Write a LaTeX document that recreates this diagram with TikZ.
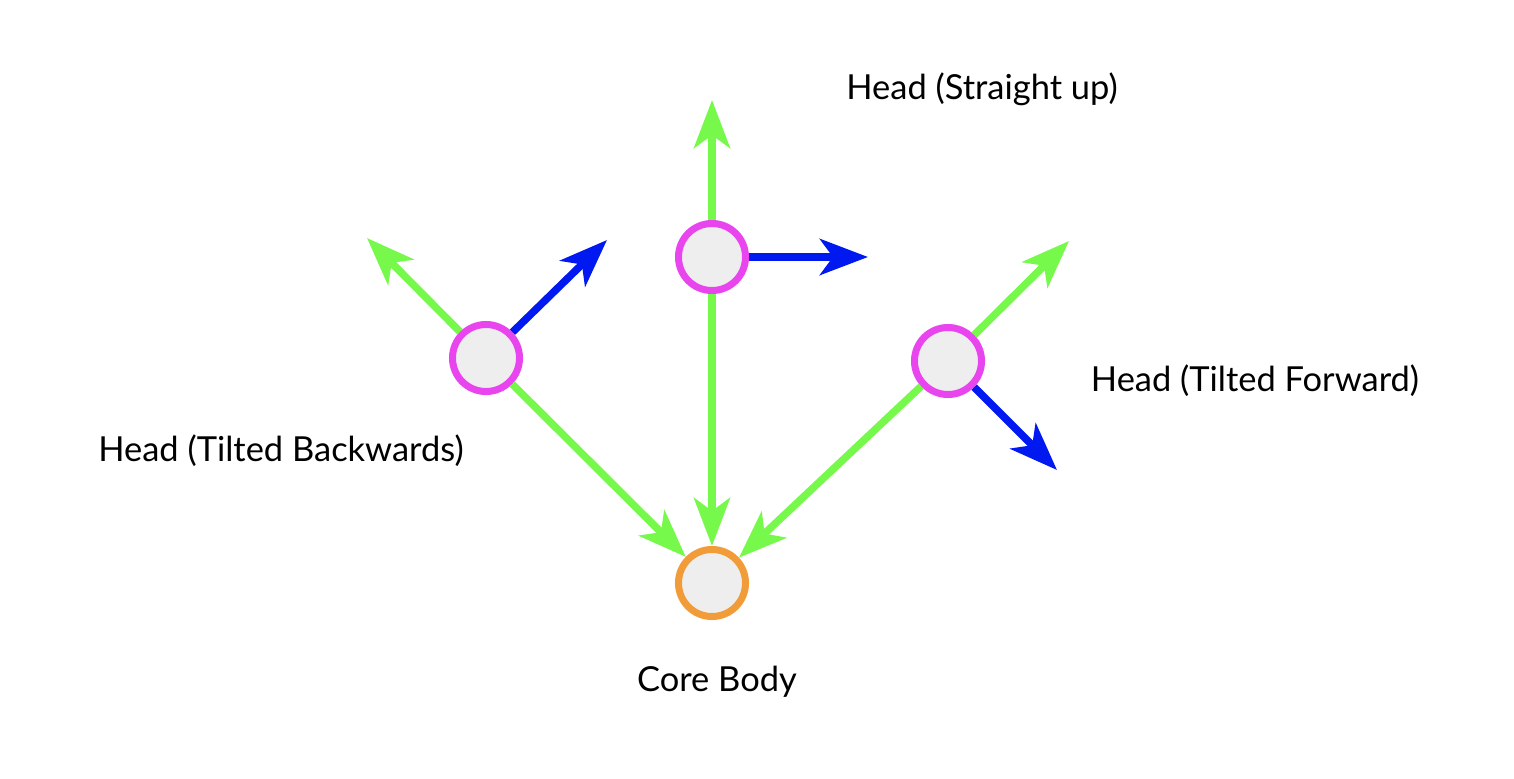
\documentclass[tikz,border=0pt]{standalone}
\usepackage{fontspec}
\setmainfont{Lato}
\usetikzlibrary{arrows.meta}
\definecolor{headpink}{HTML}{E845EE}
\definecolor{coreorange}{HTML}{F19C38}
\definecolor{jointgray}{HTML}{EEEEEE}
\definecolor{axisgreen}{HTML}{77F94B}
\definecolor{axisblue}{HTML}{0019F0}
\tikzset{
  joint/.style={circle, draw=headpink, fill=jointgray, line width=0.07cm, minimum size=0.67cm, inner sep=0pt},
  lbl/.style={font=\fontsize{9.8}{11}\selectfont, inner sep=0pt},
}
\begin{document}
\begin{tikzpicture}[x=0.01cm, y=-0.01cm, line width=0.075cm, >={Stealth[length=0.48cm, width=0.36cm, inset=0.13cm]}]
		\useasboundingbox (0,0) rectangle (1514,778);

		% heads and body
		\node[joint] (up) at (712,257) {};
		\node[joint] (back) at (486,358) {};
		\node[joint] (fwd) at (948,361) {};
		\node[joint, draw=coreorange] (core) at (712,583) {};

		% free ends of the axes
		\coordinate (up y) at (712,100);
		\coordinate (up x) at (868,257);
		\coordinate (back y) at (367,238);
		\coordinate (back x) at (607,240);
		\coordinate (fwd y) at (1069,241);
		\coordinate (fwd x) at (1057,470);

		\draw[->, axisgreen] (up) -- (up y);
		\draw[->, axisblue] (up) -- (up x);
		\draw[->, axisgreen] (back) -- (back y);
		\draw[->, axisblue] (back) -- (back x);
		\draw[->, axisgreen] (fwd) -- (fwd y);
		\draw[->, axisblue] (fwd) -- (fwd x);

		\draw[->, axisgreen] (back) -- (core);
		\draw[->, axisgreen] (up) -- (core);
		\draw[->, axisgreen] (fwd) -- (core);

		% labels
		\node[lbl] (up label) at (982,89) {Head (Straight up)};
		\node[lbl] (back label) at (281,451) {Head (Tilted Backwards)};
		\node[lbl] (fwd label) at (1255,381) {Head (Tilted Forward)};
		\node[lbl] (core label) at (717,682) {Core Body};
	\end{tikzpicture}
\end{document}
